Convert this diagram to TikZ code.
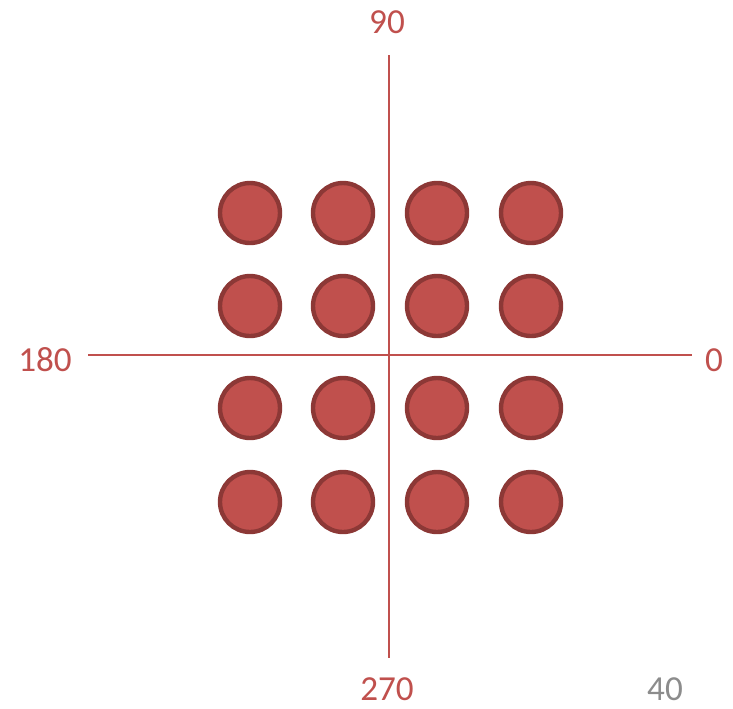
\documentclass[tikz,border=0pt]{standalone}
\usepackage{fontspec}
\setmainfont{Carlito}
\definecolor{axred}{HTML}{C0504D}
\definecolor{dotrim}{HTML}{8C3836}
\definecolor{pggray}{HTML}{8C8C8C}

\begin{document}
\begin{tikzpicture}[x=0.02cm, y=-0.02cm,
  dot/.style={circle, fill=axred, draw=dotrim, line width=2.5pt,
              minimum size=1.2cm, inner sep=0pt},
  axlabel/.style={text=axred, font=\fontsize{20}{24}\selectfont, inner sep=0pt}]

% Canvas
\useasboundingbox (0,0) rectangle (733,708);

% ================================================================
% Axes
% ================================================================
\coordinate (west) at (88,355);
\coordinate (east) at (692,355);
\coordinate (north) at (389,55);
\coordinate (south) at (389,658);
\draw[axred, line width=1.1pt] (west) -- (east);
\draw[axred, line width=1.1pt] (north) -- (south);

% Angle labels
\node[axlabel] (lab0) at (714,360) {0};
\node[axlabel] (lab90) at (387,22) {90};
\node[axlabel] (lab180) at (45,360) {180};
\node[axlabel] (lab270) at (387,689) {270};

% ================================================================
% 4x4 grid of dots
% ================================================================
\foreach \c/\px in {1/250, 2/343, 3/437, 4/531} {
  \foreach \r/\py in {1/213, 2/306, 3/408, 4/502} {
    \node[dot] (dot-\r-\c) at (\px,\py) {};
  }
}

% Page number
\node[text=pggray, font=\fontsize{20}{24}\selectfont, inner sep=0pt]
  (pagenum) at (665,689) {40};

\end{tikzpicture}
\end{document}
